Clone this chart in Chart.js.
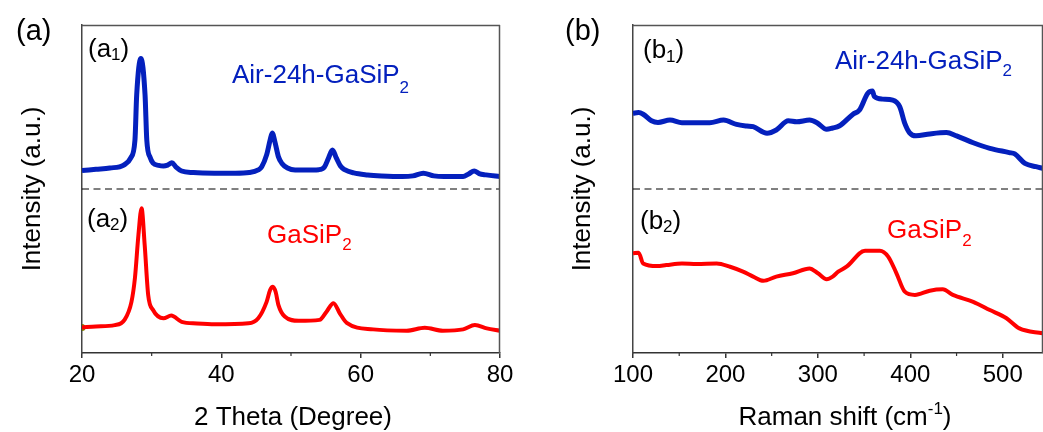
<!DOCTYPE html>
<html><head><meta charset="utf-8">
<script src="https://cdn.jsdelivr.net/npm/chart.js@4.4.1/dist/chart.umd.min.js"></script>
<style>
html,body{margin:0;padding:0;background:#fff;width:1043px;height:432px;overflow:hidden}
#wl{position:absolute;left:0;top:0;width:520px;height:432px}
#wr{position:absolute;left:520px;top:0;width:523px;height:432px}
</style></head><body>
<div id="wl"><canvas id="cl"></canvas></div>
<div id="wr"><canvas id="cr"></canvas></div>
<script>
// ---- XRD (panel a) ----
const xrdAirTheta = [20,22,24,26,27,27.6,27.85,28.45,29.05,29.3,29.8,30.2,31,31.7,32.3,32.9,33.5,34.3,36,39,42,44,45.3,45.8,46.5,47,47.3,47.7,48.2,48.7,49.5,50.6,52,54,54.8,55.4,55.95,56.5,57.1,57.7,59,61,63,66,67.5,69,70.5,72,74.7,75.5,76.3,77,78,80];
const xrdAirInt = [55.6,56.0,56.4,57.3,59.5,64.9,78.7,89.8,78.7,64.9,59.5,57.9,57.2,57.0,57.3,58.0,56.7,55.5,55.0,54.8,54.8,55.0,55.8,56.8,60.4,64.9,67.1,64.3,59.8,57.8,56.4,55.8,55.8,55.9,56.7,59.5,61.9,59.5,57.0,55.9,54.9,54.3,54.0,53.8,54.0,54.8,54.0,53.8,53.8,54.6,55.5,54.7,54.3,53.8];
const xrdPristineTheta = [20,22,24.7,26.1,27.1,27.6,28.1,28.55,29.0,29.5,30.2,31.7,32.8,34.3,36.5,39.1,43.9,45.3,46.5,47.0,47.4,47.8,48.2,49.1,51.1,54.1,55.1,56.1,57,58,61.8,66.6,69.2,71.8,74.7,76.4,78.1,80];
const xrdPristineInt = [7.8,8.1,8.5,10.1,15.6,22.9,36.0,44.1,32.9,17.7,13.1,10.6,11.4,9.5,9.0,8.75,9.05,10.6,15.6,19.2,20.2,18.6,14.6,11.1,9.8,10.1,12.6,15.2,12.1,9.2,7.2,6.8,7.7,6.8,7.2,8.5,7.5,6.8];
const xrdTicks = [20,40,60,80];
const xrdMinorTicks = [30,50,70];

// ---- Raman (panel b) ----
const ramanAirShift = [100,106,111,120,127,140,153,169,183,198,212,223,230,245,255,268,277,291,299,309.5,316,323,338,345,354,359,361,370,381,388.5,394,399,406,421,439,450,468,486,507,513,524,536,543];
const ramanAirInt = [73.1,73.3,72.8,70.8,70.3,71.0,70.2,70.2,70.2,71.0,69.7,69.2,69.0,67.0,68.0,70.8,70.5,71.0,70.2,68.2,68.6,69.2,72.8,74.1,79.2,79.9,78.2,77.4,77.1,75.1,70.0,67.2,66.2,66.8,67.2,66.2,64.1,62.4,61.1,60.7,57.8,56.8,56.3];
const ramanPristineShift = [100,106,111,126,136,153,169,190.5,205,219,230,241,255,273,291,300,309.5,316,322,331,351,367,376,385,394,405,421,435,446,468,486,504,518,543];
const ramanPristineInt = [30.4,30.6,27.3,26.5,26.8,27.3,27.1,27.3,26.3,24.8,23.3,22.0,23.3,24.3,25.8,24.3,22.5,23.3,24.8,26.3,31.2,31.2,29.4,24.3,18.7,17.7,19.0,19.4,17.7,15.6,13.1,10.6,7.5,6.0];
const ramanTicks = [100,200,300,400,500];
const ramanMinorTicks = [150,250,350,450];

const dividerLevel = 50;

const FAM = "'Liberation Sans', Arial, sans-serif";
Chart.defaults.font.family = FAM;
const BLUE = '#0420bd';
const RED = '#ff0000';

function pts(xs, ys){ return xs.map((x,i)=>({x:x, y:ys[i]})); }

function drawRich(ctx, x, y, parts, color, size, align){
  ctx.save();
  ctx.fillStyle = color; ctx.textBaseline = 'alphabetic'; ctx.textAlign = 'left';
  const ws = []; let w = 0;
  parts.forEach(p=>{ const s = p[1] ? Math.round(size*0.66) : size; ctx.font = s+'px '+FAM; const m = ctx.measureText(p[0]).width; ws.push(m); w += m; });
  let cx = align === 'center' ? x - w/2 : x;
  parts.forEach((p,i)=>{ const s = p[1] ? Math.round(size*0.66) : size; ctx.font = s+'px '+FAM; ctx.fillText(p[0], cx, y + (p[2]||0)); cx += ws[i]; });
  ctx.restore();
}

const deco = {
  id:'deco',
  afterDraw(chart, args, opts){
    const ctx = chart.ctx, a = chart.chartArea, xs = chart.scales.x;
    ctx.save();
    ctx.strokeStyle = '#555'; ctx.lineWidth = 1.5;
    ctx.beginPath(); ctx.moveTo(a.left, a.top+0.5); ctx.lineTo(a.right, a.top+0.5);
    ctx.moveTo(a.right-0.5, a.top); ctx.lineTo(a.right-0.5, a.bottom); ctx.stroke();
    ctx.strokeStyle = '#333'; ctx.lineWidth = 1.2;
    ctx.beginPath();
    opts.minor.forEach(v=>{ const px = xs.getPixelForValue(v); ctx.moveTo(px, a.bottom); ctx.lineTo(px, a.bottom+3); });
    ctx.stroke();
    ctx.restore();
    opts.texts.forEach(t=> drawRich(ctx, t.x, t.y, t.parts, t.color, t.size, t.align));
    ctx.save();
    ctx.translate(opts.ytitle.x, opts.ytitle.y); ctx.rotate(-Math.PI/2);
    drawRich(ctx, 0, 0, [['Intensity (a.u.)',0]], '#000', 26, 'center');
    ctx.restore();
  }
};

function makeChart(id, datasets, xmin, xmax, step, yw, padR, minor, texts, ytitle){
  return new Chart(document.getElementById(id), {
    type:'line',
    data:{datasets},
    options:{
      responsive:true, maintainAspectRatio:false, animation:false,
      layout:{padding:{left:0, top:25, right:padR, bottom:0}},
      plugins:{legend:{display:false}, tooltip:{enabled:false}, deco:{minor, texts, ytitle}},
      elements:{point:{radius:0}},
      scales:{
        x:{type:'linear', min:xmin, max:xmax,
           afterFit:s=>{ s.height = 79; s.paddingLeft = 0; s.paddingRight = 0; },
           ticks:{stepSize:step, includeBounds:false, autoSkip:false, maxRotation:0, color:'#000', font:{size:24}, padding:3},
           grid:{display:true, drawOnChartArea:false, tickLength:5, color:'#333', lineWidth:1.5},
           border:{display:true, color:'#333', width:1.5}},
        y:{min:0, max:100,
           afterFit:s=>{ s.width = yw; },
           ticks:{display:false}, grid:{display:false},
           border:{display:true, color:'#444', width:1.5}}
      }
    },
    plugins:[deco]
  });
}

makeChart('cl', [
  {data:pts(xrdAirTheta, xrdAirInt), borderColor:BLUE, borderWidth:5, cubicInterpolationMode:'monotone'},
  {data:pts(xrdPristineTheta, xrdPristineInt), borderColor:RED, borderWidth:4, cubicInterpolationMode:'monotone'},
  {data:[{x:20,y:dividerLevel},{x:80,y:dividerLevel}], borderColor:'#000', borderWidth:1, borderDash:[7,4.5]},
  {data:[{x:xrdPristineTheta[0], y:xrdPristineInt[0]}], showLine:false, pointRadius:3.5, pointBackgroundColor:'#7d7d00', pointBorderWidth:0}
], 20, 80, 20, 82, 20, xrdMinorTicks, [
  {x:16, y:40, parts:[['(a)',0]], color:'#000', size:29},
  {x:88, y:57, parts:[['(a',0],['1',1,3],[')',0]], color:'#000', size:26},
  {x:232, y:83, parts:[['Air-24h-GaSiP',0],['2',1,10]], color:BLUE, size:26},
  {x:87, y:227, parts:[['(a',0],['2',1,3],[')',0]], color:'#000', size:26},
  {x:267, y:243, parts:[['GaSiP',0],['2',1,7]], color:RED, size:26},
  {x:293, y:425, parts:[['2 Theta (Degree)',0]], color:'#000', size:26, align:'center'}
], {x:40, y:189});

makeChart('cr', [
  {data:pts(ramanAirShift, ramanAirInt), borderColor:BLUE, borderWidth:5, cubicInterpolationMode:'monotone'},
  {data:pts(ramanPristineShift, ramanPristineInt), borderColor:RED, borderWidth:4, cubicInterpolationMode:'monotone'},
  {data:[{x:100,y:dividerLevel},{x:543.5,y:dividerLevel}], borderColor:'#000', borderWidth:1, borderDash:[7,4.5]}
], 100, 543.5, 100, 113, 0, ramanMinorTicks, [
  {x:45, y:40, parts:[['(b)',0]], color:'#000', size:29},
  {x:123, y:58, parts:[['(b',0],['1',1,4],[')',0]], color:'#000', size:26},
  {x:315, y:69, parts:[['Air-24h-GaSiP',0],['2',1,7]], color:BLUE, size:26},
  {x:120, y:229, parts:[['(b',0],['2',1,3],[')',0]], color:'#000', size:26},
  {x:367, y:238, parts:[['GaSiP',0],['2',1,8]], color:RED, size:26},
  {x:325, y:425, parts:[['Raman shift (cm',0],['-1',1,-11],[')',0]], color:'#000', size:26, align:'center'}
], {x:70, y:189});
</script>
</body></html>
